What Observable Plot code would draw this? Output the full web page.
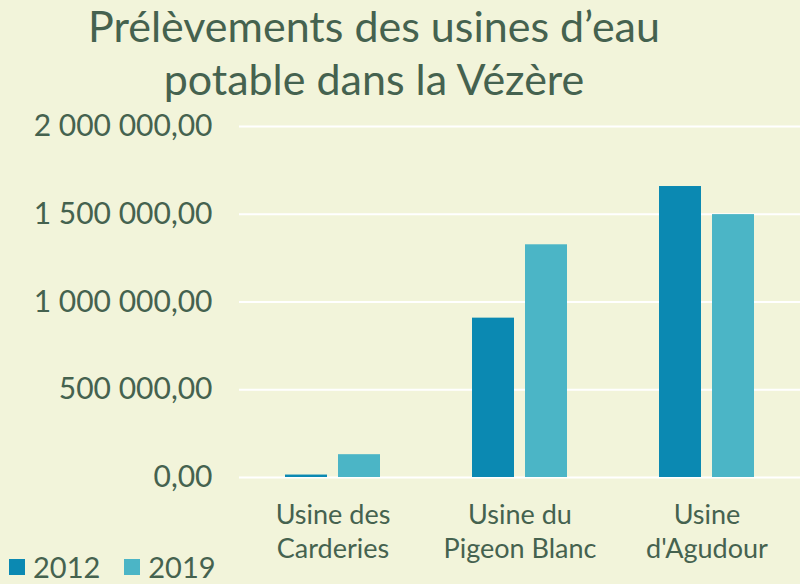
<!DOCTYPE html>
<html><head><meta charset="utf-8">
<script src="https://cdn.jsdelivr.net/npm/d3@7"></script>
<script src="https://cdn.jsdelivr.net/npm/@observablehq/plot@0.6"></script>
<style>
body{margin:0;background:#f2f4da;}
#wrap{position:relative;width:800px;height:584px;overflow:hidden;font-family:Lato,sans-serif;color:#45624f;background:#f2f4da;}
#title{width:748px;text-align:center;font-size:43px;line-height:53px;height:104px;position:relative;top:-1px;margin-bottom:-0px;}
#chart{position:absolute;left:0;top:104px;}
#legend{position:absolute;left:9px;top:552px;font-size:29px;line-height:29px;display:flex;}
#legend .item{display:flex;align-items:center;margin-right:24px;}
#legend .sw{width:16px;height:16px;display:inline-block;margin-right:8px;}
</style></head>
<body><div id="wrap"><div id="title">Prélèvements des usines d’eau<br>potable dans la Vézère</div><div id="chart"></div><div id="legend"></div></div>
<script>
const categories = ["Usine des Carderies", "Usine du Pigeon Blanc", "Usine d'Agudour"];
const categoryLabels = ["Usine des\nCarderies", "Usine du\nPigeon Blanc", "Usine\nd'Agudour"];
const years = ["2012", "2019"];
const values2012 = [14000, 908000, 1658000];
const values2019 = [130000, 1326000, 1498000];
const colors = ["#0b89b2", "#4bb5c6"];
const yTicks = [0, 500000, 1000000, 1500000, 2000000];

const data = categories.flatMap((c, i) => [
  {cat: c, year: years[0], value: values2012[i]},
  {cat: c, year: years[1], value: values2019[i]}
]);
const fmt = d3.formatLocale({decimal: ",", thousands: "\u00a0", grouping: [3], currency: ["", ""]}).format(",.2f");

const plot = Plot.plot({
  width: 800, height: 480,
  marginTop: 22, marginBottom: 107, marginLeft: 239, marginRight: 0,
  style: {background: "transparent", fontFamily: "Lato, sans-serif", color: "#45624f", overflow: "visible"},
  x: {domain: categories, paddingInner: 0.492, paddingOuter: 0.246, align: 0.5, label: null, axis: null},
  y: {domain: [0, 2000000], label: null, axis: null},
  color: {domain: years, range: colors},
  marks: [
    Plot.ruleY(yTicks, {stroke: "#ffffff", strokeWidth: 2}),
    Plot.barY(data.filter(d => d.year === years[0]), {x: "cat", y: "value", fill: "year", insetRight: 53}),
    Plot.barY(data.filter(d => d.year === years[1]), {x: "cat", y: "value", fill: "year", insetLeft: 53}),
    Plot.axisY(yTicks, {tickFormat: fmt, tickSize: 0, tickPadding: 27, fontSize: 30, label: null, fill: "#45624f"}),
    Plot.axisX({tickSize: 0, tickPadding: 23, fontSize: 27, lineHeight: 1.25, label: null, fill: "#45624f",
      tickFormat: d => categoryLabels[categories.indexOf(d)]})
  ]
});
document.getElementById("chart").appendChild(plot);

const legend = d3.select("#legend");
years.forEach((y, i) => {
  const item = legend.append("span").attr("class", "item");
  item.append("span").attr("class", "sw").style("background", colors[i]);
  item.append("span").text(y);
});
</script>
</body></html>
